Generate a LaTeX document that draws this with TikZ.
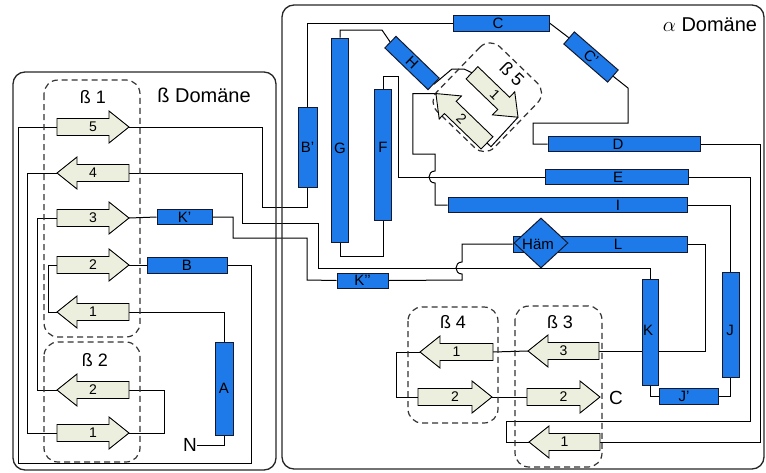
\documentclass[tikz,border=0pt]{standalone}
\usepackage{fontspec}
\setmainfont{Liberation Sans}
\usetikzlibrary{shapes.geometric,calc}
\pgfdeclarelayer{bg}
\pgfsetlayers{bg,main}
\definecolor{hblue}{RGB}{30,122,232}
\definecolor{sfill}{RGB}{236,239,222}
\definecolor{hline}{RGB}{20,25,45}
\tikzset{
 conn/.style={line width=1pt, draw=black},
 sheet/.style={draw=black, line width=0.9pt, fill=sfill, line join=miter},
 snum/.style={font=\fontsize{14}{14}\selectfont, inner sep=0pt},
 helix/.style={draw=hline, line width=1pt, fill=hblue, inner sep=0pt, font=\fontsize{15}{15}\selectfont},
 hlab/.style={font=\fontsize{15}{15}\selectfont, inner sep=0pt},
 dombox/.style={draw=black!85, line width=1.3pt, rounded corners=12pt},
 sheetbox/.style={draw=black!80, line width=1.2pt, dash pattern=on 6pt off 4pt, rounded corners=14pt},
 big/.style={font=\fontsize{18}{18}\selectfont, inner sep=0pt},
 huge/.style={font=\fontsize{20}{20}\selectfont, inner sep=0pt},
}
\newcommand\bsheet[5]{%
  \pgfmathsetmacro\bsdir{ifthenelse(#3>#2,1,-1)}%
  \pgfmathsetmacro\bshx{#3-\bsdir*20}%
  \pgfmathsetmacro\bsmid{0.5*(#2)+0.5*(#3)}%
  \draw[sheet] (#2,#4-8.5) -- (\bshx,#4-8.5) -- (\bshx,#4-16) -- (#3,#4) -- (\bshx,#4+16) -- (\bshx,#4+8.5) -- (#2,#4+8.5) -- cycle;
  \coordinate (#1t) at (#2,#4);
  \coordinate (#1h) at (#3,#4);
  \node[snum] (#1) at (\bsmid,#4) {#5};
}
\begin{document}
\begin{tikzpicture}[x=1pt,y=-1pt]
\useasboundingbox (0,0) rectangle (766,472);
% domain boxes
\draw[dombox] (13,72) rectangle (276,470);
\draw[dombox] (282,5) rectangle (764,469);
\node[huge] (betadom) at (204,95) {ß Domäne};
\node[huge] (alphadom) at (710,25) {$\alpha$ Domäne};
% dashed sheet boxes
\draw[sheetbox] (44,80) rectangle (140,337);
\draw[sheetbox] (44,342) rectangle (140,462);
\draw[sheetbox] (408,307) rectangle (498,423);
\draw[sheetbox] (515,306) rectangle (602,467);
\node[big] (l1) at (93,97) {ß 1};
\node[big] (l2) at (95,360) {ß 2};
\node[big] (l4) at (453,322) {ß 4};
\node[big] (l3) at (560,322) {ß 3};
% helices
\node[helix, minimum width=18, minimum height=93] (A) at (224,388.5) {A};
\node[helix, minimum width=80, minimum height=16] (B) at (187,265) {B};
\node[helix, minimum width=55, minimum height=15] (Kp) at (184.5,217) {K’};
\node[helix, minimum width=51, minimum height=15] (Kpp) at (362.5,280.5) {K’’};
\node[helix, minimum width=19, minimum height=80] (Bp) at (307.5,147) {B’};
\node[helix, minimum width=17, minimum height=204] (G) at (340,140) {};
\node[hlab] (Gl) at (340,148) {G};
\node[helix, minimum width=17, minimum height=131] (F) at (383,154.5) {};
\node[hlab] (Fl) at (383,147) {F};
\node[helix, minimum width=96, minimum height=16] (C) at (501,23) {};
\node[hlab] (Cl) at (498,23) {C};
\node[helix, minimum width=58, minimum height=16, rotate=-41] (Cp) at (591,57) {C’};
\node[helix, minimum width=60, minimum height=16, rotate=-44] (H) at (412,63) {H};
\node[helix, minimum width=152, minimum height=15] (D) at (624,144) {};
\node[hlab] (Dl) at (618,144) {D};
\node[helix, minimum width=143, minimum height=15] (E) at (616.5,177) {};
\node[hlab] (El) at (618,177) {E};
\node[helix, minimum width=239, minimum height=15] (I) at (567.5,205) {};
\node[hlab] (Il) at (618,205) {I};
\node[helix, minimum width=174, minimum height=16] (L) at (600,244) {};
\node[helix, diamond, minimum width=54, minimum height=50] (Ham) at (541,243) {};
\node[hlab] (Haml) at (538,244) {Häm};
\node[hlab] (Ll) at (618,244) {L};
\node[helix, minimum width=17, minimum height=105] (J) at (730.5,324.5) {};
\node[hlab] (Jl) at (730,330) {J};
\node[helix, minimum width=59, minimum height=16] (Jp) at (688.5,396) {};
\node[hlab] (Jpl) at (684,396) {J’};
\node[helix, minimum width=16, minimum height=106] (K) at (650,332) {};
\node[hlab] (Kl) at (648,330) {K};
% end labels
\node[font=\fontsize{19}{19}\selectfont, inner sep=0pt] (N) at (190,445) {N};
\node[font=\fontsize{19}{19}\selectfont, inner sep=0pt] (Cend) at (616,398) {C};
% sheets
\bsheet{b15}{57}{129}{127}{5}
\bsheet{b14}{129}{57}{173}{4}
\bsheet{b13}{57}{129}{218}{3}
\bsheet{b12}{57}{129}{265}{2}
\bsheet{b11}{129}{57}{312}{1}
\bsheet{b22}{129}{57}{390}{2}
\bsheet{b21}{57}{129}{433}{1}
\bsheet{b41}{493}{420}{352}{1}
\bsheet{b42}{418}{492}{397}{2}
\bsheet{b33}{599}{528}{351}{3}
\bsheet{b32}{527}{600}{397}{2}
\bsheet{b31}{600}{529}{442}{1}
\begin{scope}[shift={(495,95)}, rotate=-44, transform shape]
 \draw[sheetbox] (-44,-38) rectangle (36,52);
 \node[big] (l5) at (-2,-27) {ß 5};
 \bsheet{b51}{-32}{32}{0}{1}
 \bsheet{b52}{27.5}{-43.5}{40}{2}
 \begin{pgfonlayer}{bg}
 \draw[conn] (b51h) -- (33,40) -- (b52t);
 \end{pgfonlayer}
\end{scope}
% connectors
\begin{pgfonlayer}{bg}
\draw[conn] (N.east) -| (A.south);
\draw[conn] (A.north) |- (b11t);
\draw[conn] (b11h) -| (48,265) -- (b12t);
\draw[conn] (b12h) -- (B.west);
\draw[conn] (B.east) -| (251,463) -| (18,127) -- (b15t);
\draw[conn] (b15h) -| (262,207) -| (Bp.south);
\draw[conn] (Bp.north) |- (C.west);
\draw[conn] (C.east) -- (Cp.west);
\draw[conn] (Cp.east) -- (628,88) |- (533,123) |- (D.west);
\draw[conn] (D.east) -| (760,442) -- (b31t);
\draw[conn] (b31h) -| (506,421) -| (750,177) -- (E.east);
\draw[conn] (E.west) -| (398,76) -| (F.north);
\draw[conn] (F.south) |- (340,256) -- (G.south);
\draw[conn] (G.north) |- (382,30) -- (H.west);
\draw[conn] (H.east) -- (452,69) -- (464,69) -- (b51t);
\draw[conn] (b52h) -- ++(-23,0) |- (435,154) -- (435,171) .. controls (427,171) and (427,183) .. (435,183) |- (I.west);
\draw[conn] (I.east) -| (J.north);
\draw[conn] (J.south) |- (Jp.east);
\draw[conn] (Jp.west) -| (K.south);
\draw[conn] (K.north) |- (318,268) |- (242,223) |- (b14t);
\draw[conn] (b14h) -| (27,433) -- (b21t);
\draw[conn] (b21h) -| (164,390) -- (b22t);
\draw[conn] (b22h) -| (37,218) -- (b13t);
\draw[conn] (b13h) -- (Kp.west);
\draw[conn] (Kp.east) -| (233,238) -| (307,280) -- (Kpp.west);
\draw[conn] (Kpp.east) -- (462,280) -- (462,274) .. controls (454,274) and (454,262) .. (462,262) |- (L.west);
\draw[conn] (L.east) -| (705,351) -- (b33t);
\draw[conn] (b33h) -- (b41t);
\draw[conn] (b41h) -| (396,397) -- (b42t);
\draw[conn] (b42h) -- (b32t);
\end{pgfonlayer}
\end{tikzpicture}
\end{document}
